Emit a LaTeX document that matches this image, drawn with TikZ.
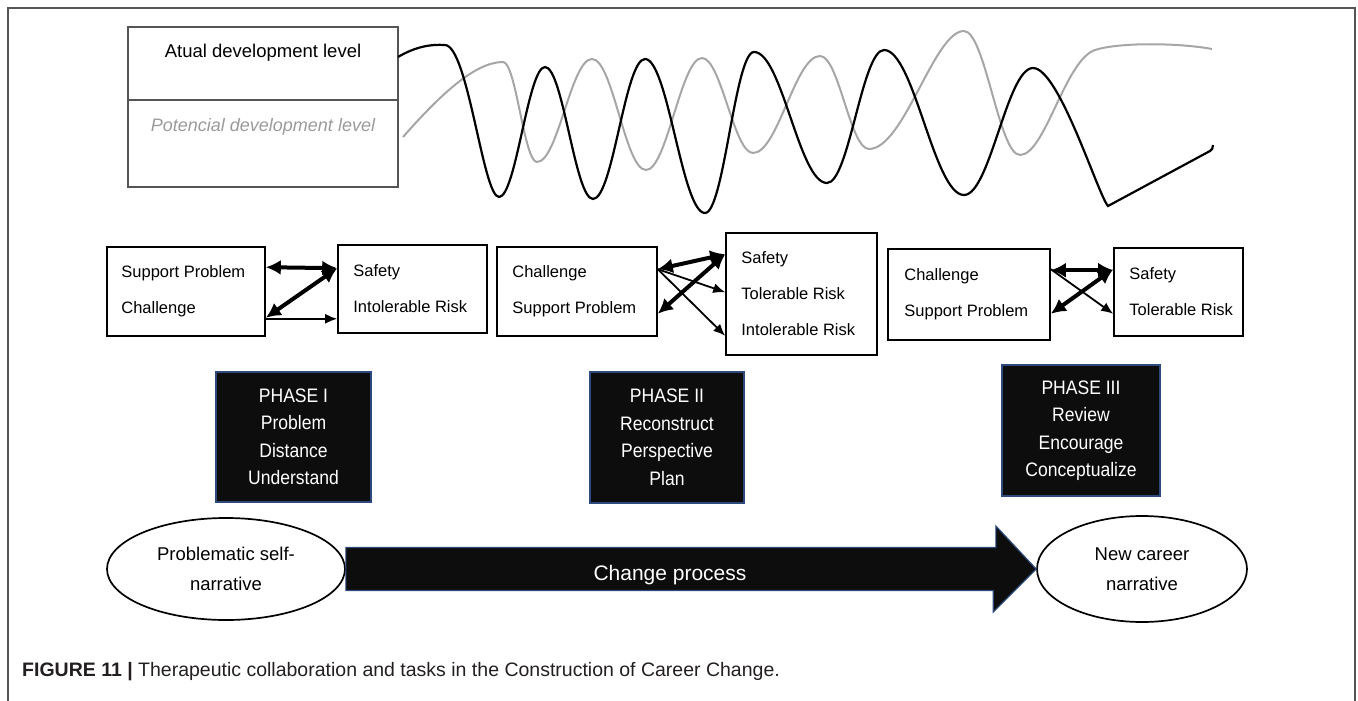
\documentclass[tikz,border=0pt]{standalone}
\usepackage{fontspec}
\setmainfont{Liberation Sans}
\newfontfamily\narrowsans[FakeStretch=0.9]{Liberation Sans}
\usetikzlibrary{arrows.meta,shapes.geometric}
\definecolor{framegray}{HTML}{555555}
\definecolor{potgray}{HTML}{9A9A9A}
\definecolor{wavegray}{HTML}{A6A6A6}
\definecolor{phasefill}{HTML}{0D0D0D}
\definecolor{phaseedge}{HTML}{2E4A7D}
\definecolor{capcol}{HTML}{231F20}
\begin{document}
\begin{tikzpicture}[x=1pt,y=-1pt,
  every node/.style={inner sep=0pt},
  levbox/.style={draw=framegray, line width=1.3pt, rectangle},
  cbox/.style={draw=black, line width=1.6pt, rectangle},
  boxtext/.style={font=\fontsize{16.5}{36}\selectfont, align=left, anchor=west},
  phasebox/.style={draw=phaseedge, fill=phasefill, line width=1.2pt, text=white,
     align=center, font=\narrowsans\fontsize{19.5}{27.5}\selectfont},
  ell/.style={ellipse, draw=black, line width=1.7pt, align=center,
     font=\fontsize{18.5}{30}\selectfont},
  thickarr/.style={{Latex[length=15pt,width=15pt]}-{Latex[length=15pt,width=15pt]}, line width=4pt},
  thinarr/.style={-{Latex[length=12pt,width=10pt]}, line width=1.8pt},
  blackwave/.style={draw=black, line width=2.2pt},
  graywave/.style={draw=wavegray, line width=2pt},
]
\useasboundingbox (0,0) rectangle (1358,701);
% outer frame
\draw[framegray, line width=1.5pt] (8,701) -- (8,8) -- (1355,8) -- (1355,701);

% level boxes
\node[levbox, minimum width=270pt, minimum height=73pt] (atb) at (263,63.5) {};
\node[levbox, minimum width=270pt, minimum height=87pt] (ptb) at (263,143.5) {};
\node[font=\fontsize{18.5}{20}\selectfont] (att) at (263,53) {Atual development level};
\node[font=\fontsize{18}{20}\selectfont\itshape, text=potgray] (ptt) at (263,127) {Potencial development level};

% gray wave
\path[graywave] (403,137) .. controls (440,95) and (475,62) .. (503,62)
  .. controls +(13,0) and +(-13,0) .. (537,162)
  .. controls +(21,0) and +(-21,0) .. (592,59)
  .. controls +(21,0) and +(-21,0) .. (646,170)
  .. controls +(21,0) and +(-21,0) .. (702,58)
  .. controls +(19,0) and +(-19,0) .. (753,153)
  .. controls +(25,0) and +(-25,0) .. (820,56)
  .. controls +(19,0) and +(-19,0) .. (869,149)
  .. controls +(35,0) and +(-30,0) .. (964,31)
  .. controls +(21,0) and +(-21,0) .. (1020,155)
  .. controls +(25,0) and (1065,60) .. (1095,50)
  .. controls (1120,42) and (1180,43) .. (1212,49);

% black wave
\path[blackwave] (398,57) .. controls (415,47) and (430,44) .. (445,45)
  .. controls (468,46) and (483,197) .. (499,197)
  .. controls +(17,0) and +(-17,0) .. (545,67)
  .. controls +(18,0) and +(-18,0) .. (593,199)
  .. controls +(20,0) and +(-20,0) .. (645,59)
  .. controls +(23,0) and +(-23,0) .. (705,213)
  .. controls +(19,0) and +(-19,0) .. (754,52)
  .. controls +(28,0) and +(-28,0) .. (827,183)
  .. controls +(22,0) and +(-22,0) .. (884,50)
  .. controls +(30,0) and +(-30,0) .. (964,195)
  .. controls +(26,0) and +(-26,0) .. (1033,68)
  .. controls +(26,0) and (1098,195) .. (1108,206)
  -- (1210,151) .. controls (1212,150) and (1213,148) .. (1213,145);

% phase I boxes
\node[cbox, minimum width=158pt, minimum height=89pt] (l1) at (186,291.5) {};
\node[boxtext] (l1t) at ([xshift=15pt]l1.west) {Support Problem\\Challenge};
\node[cbox, minimum width=149pt, minimum height=88pt] (r1) at (412.5,289) {};
\node[boxtext] (r1t) at ([xshift=16pt]r1.west) {Safety\\Intolerable Risk};
\draw[thickarr] ([yshift=-21pt]l1.north east) -- ([yshift=-24pt]r1.north west);
\draw[thickarr] ([yshift=-24pt]r1.north west) -- ([yshift=19pt]l1.south east);
\draw[thinarr] ([yshift=18pt]l1.south east) -- ([yshift=15pt]r1.south west);

% phase II boxes
\node[cbox, minimum width=160pt, minimum height=89pt] (l2) at (577,291.5) {};
\node[boxtext] (l2t) at ([xshift=16pt]l2.west) {Challenge\\Support Problem};
\node[cbox, minimum width=151pt, minimum height=122pt] (r2) at (801.5,294) {};
\node[boxtext] (r2t) at ([xshift=16pt]r2.west) {Safety\\Tolerable Risk\\Intolerable Risk};
\draw[thickarr] ([yshift=-23pt]l2.north east) -- ([yshift=-22pt]r2.north west);
\draw[thickarr] ([yshift=-22pt]r2.north west) -- ([yshift=23pt]l2.south east);
\draw[thinarr] ([yshift=-23pt]l2.north east) -- ([yshift=-60pt]r2.north west);
\draw[thinarr] ([yshift=-23pt]l2.north east) -- ([yshift=20pt]r2.south west);

% phase III boxes
\node[cbox, minimum width=162pt, minimum height=91pt] (l3) at (969,294.5) {};
\node[boxtext] (l3t) at ([xshift=17pt]l3.west) {Challenge\\Support Problem};
\node[cbox, minimum width=129pt, minimum height=88pt] (r3) at (1178.5,292) {};
\node[boxtext] (r3t) at ([xshift=16pt]r3.west) {Safety\\Tolerable Risk};
\draw[thickarr] ([yshift=-22pt]l3.north east) -- ([yshift=-23pt]r3.north west);
\draw[thickarr] ([yshift=-22pt]r3.north west) -- ([yshift=27pt]l3.south east);
\draw[thinarr] ([yshift=-21pt]l3.north east) -- ([yshift=23pt]r3.south west);

% phase labels
\node[phasebox, minimum width=155pt, minimum height=130pt] (p1) at (293.5,437) {PHASE I\\Problem\\Distance\\Understand};
\node[phasebox, minimum width=154pt, minimum height=131pt] (p2) at (667,437.5) {PHASE II\\Reconstruct\\Perspective\\Plan};
\node[phasebox, minimum width=158pt, minimum height=131pt] (p3) at (1081,430.5) {PHASE III\\Review\\Encourage\\Conceptualize};

% bottom narrative
\node[ell, minimum width=238pt, minimum height=102pt] (e1) at (226,569) {Problematic self-\\narrative};
\node[ell, minimum width=210pt, minimum height=106pt] (e2) at (1142,569) {New career\\narrative};
\path[fill=phasefill, draw=phaseedge, line width=1.2pt, line join=miter]
  ([yshift=21.5pt]e1.east) -- ++(650,0) -- ++(0,-21.5) -- (e2.west)
  -- ++(-43,43) -- ++(0,-21.5) -- ([yshift=-21.5pt]e1.east) -- cycle;
\node[font=\fontsize{21}{22}\selectfont, text=white] (chg) at (670,575) {Change process};

% caption
\node[anchor=west, font=\fontsize{19.5}{21}\selectfont, text=capcol] (cap) at (22,672)
  {\textbf{FIGURE 11 |} Therapeutic collaboration and tasks in the Construction of Career Change.};
\end{tikzpicture}
\end{document}
